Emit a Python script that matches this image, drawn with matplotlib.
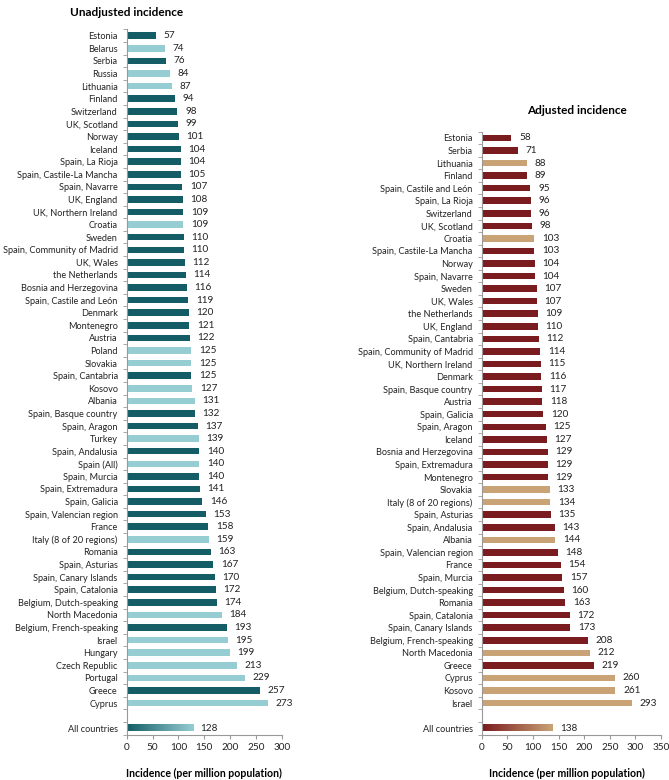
import numpy as np
import matplotlib
matplotlib.use('Agg')
import matplotlib.pyplot as plt
from matplotlib.colors import LinearSegmentedColormap

plt.rcParams['font.family'] = ['Lato', 'DejaVu Sans']

# Unadjusted incidence (per million population); light = 1
unadj_labels = ['Estonia', 'Belarus', 'Serbia', 'Russia', 'Lithuania', 'Finland',
                'Switzerland', 'UK, Scotland', 'Norway', 'Iceland', 'Spain, La Rioja',
                'Spain, Castile-La Mancha', 'Spain, Navarre', 'UK, England',
                'UK, Northern Ireland', 'Croatia', 'Sweden', 'Spain, Community of Madrid',
                'UK, Wales', 'the Netherlands', 'Bosnia and Herzegovina',
                'Spain, Castile and León', 'Denmark', 'Montenegro', 'Austria', 'Poland',
                'Slovakia', 'Spain, Cantabria', 'Kosovo', 'Albania', 'Spain, Basque country',
                'Spain, Aragon', 'Turkey', 'Spain, Andalusia', 'Spain (All)', 'Spain, Murcia',
                'Spain, Extremadura', 'Spain, Galicia', 'Spain, Valencian region', 'France',
                'Italy (8 of 20 regions)', 'Romania', 'Spain, Asturias',
                'Spain, Canary Islands', 'Spain, Catalonia', 'Belgium, Dutch-speaking',
                'North Macedonia', 'Belgium, French-speaking', 'Israel', 'Hungary',
                'Czech Republic', 'Portugal', 'Greece', 'Cyprus']
unadj_values = [57, 74, 76, 84, 87, 94, 98, 99, 101, 104, 104, 105, 107, 108, 109, 109,
                110, 110, 112, 114, 116, 119, 120, 121, 122, 125, 125, 125, 127, 131,
                132, 137, 139, 140, 140, 140, 141, 146, 153, 158, 159, 163, 167, 170,
                172, 174, 184, 193, 195, 199, 213, 229, 257, 273]
unadj_light = [0, 1, 0, 1, 1, 0, 0, 0, 0, 0, 0, 0, 0, 0, 0, 1, 0, 0, 0, 0, 0, 0, 0, 0,
               0, 1, 1, 0, 1, 1, 0, 0, 1, 0, 1, 0, 0, 0, 0, 0, 1, 0, 0, 0, 0, 0, 1, 0,
               1, 1, 1, 1, 0, 1]
unadj_all = 128

# Adjusted incidence
adj_labels = ['Estonia', 'Serbia', 'Lithuania', 'Finland', 'Spain, Castile and León',
              'Spain, La Rioja', 'Switzerland', 'UK, Scotland', 'Croatia',
              'Spain, Castile-La Mancha', 'Norway', 'Spain, Navarre', 'Sweden', 'UK, Wales',
              'the Netherlands', 'UK, England', 'Spain, Cantabria',
              'Spain, Community of Madrid', 'UK, Northern Ireland', 'Denmark',
              'Spain, Basque country', 'Austria', 'Spain, Galicia', 'Spain, Aragon',
              'Iceland', 'Bosnia and Herzegovina', 'Spain, Extremadura', 'Montenegro',
              'Slovakia', 'Italy (8 of 20 regions)', 'Spain, Asturias', 'Spain, Andalusia',
              'Albania', 'Spain, Valencian region', 'France', 'Spain, Murcia',
              'Belgium, Dutch-speaking', 'Romania', 'Spain, Catalonia',
              'Spain, Canary Islands', 'Belgium, French-speaking', 'North Macedonia',
              'Greece', 'Cyprus', 'Kosovo', 'Israel']
adj_values = [58, 71, 88, 89, 95, 96, 96, 98, 103, 103, 104, 104, 107, 107, 109, 110,
              112, 114, 115, 116, 117, 118, 120, 125, 127, 129, 129, 129, 133, 134, 135,
              143, 144, 148, 154, 157, 160, 163, 172, 173, 208, 212, 219, 260, 261, 293]
adj_light = [0, 0, 1, 0, 0, 0, 0, 0, 1, 0, 0, 0, 0, 0, 0, 0, 0, 0, 0, 0, 0, 0, 0, 0,
             0, 0, 0, 0, 1, 1, 0, 0, 1, 0, 0, 0, 0, 0, 0, 0, 0, 1, 0, 1, 1, 1]
adj_all = 138

fig = plt.figure(figsize=(6.69, 7.80), dpi=100)
W, H = 669, 780


def panel(rect, labels, values, light, all_val, dark_c, light_c, xmax, title, title_xy,
          xlabel_x=0.5):
    ax = fig.add_axes(rect)
    n = len(labels)
    pos = list(range(n)) + [n + 1]
    cols = [light_c if f else dark_c for f in light]
    ax.barh(range(n), values, height=0.52, color=cols)
    # gradient bar for "All countries"
    cmap = LinearSegmentedColormap.from_list('g', [dark_c, light_c])
    grad = np.linspace(0, 1, 256).reshape(1, -1)
    ax.imshow(grad, extent=(0, all_val, n + 1 + 0.26, n + 1 - 0.26), cmap=cmap,
              aspect='auto', zorder=2)
    for y, v in zip(pos, list(values) + [all_val]):
        ax.annotate(str(v), (v, y), xytext=(5.5, 0), textcoords='offset points',
                    va='center', ha='left', fontsize=7.2, color='#222222')
    ax.set_ylim(n + 1.5, -0.5)
    ax.set_xlim(0, xmax)
    ax.set_yticks(pos)
    ax.set_yticklabels(labels + ['All countries'], fontsize=6.6, color='#222222')
    ax.set_yticks(np.arange(-0.5, n + 2, 1), minor=True)
    ax.tick_params(axis='y', which='major', length=0, pad=6.5)
    ax.tick_params(axis='y', which='minor', length=3, color='#999999', direction='out')
    ax.set_xticks(np.arange(0, xmax + 1, 50))
    ax.tick_params(axis='x', length=3, color='#999999', labelsize=7.2, pad=3,
                   labelcolor='#222222')
    for s in ['top', 'right']:
        ax.spines[s].set_visible(False)
    for s in ['left', 'bottom']:
        ax.spines[s].set_color('#999999')
        ax.spines[s].set_linewidth(0.8)
    ax.set_xlabel('Incidence (per million population)', fontsize=7.6, fontweight='bold')
    # place label about 38 px under the axis line
    ax.xaxis.set_label_coords(xlabel_x, -33.0 / (rect[3] * H))
    fig.text(title_xy[0] / W, 1 - title_xy[1] / H, title, fontsize=8.5,
             fontweight='bold', ha='center', va='center')
    return ax


bottom = 1 - 734.5 / H
left_h = 56 * 12.59 / H
right_h = 48 * 12.56 / H
panel([126.7 / W, bottom, 155.3 / W, left_h], unadj_labels, unadj_values, unadj_light,
      unadj_all, '#145D66', '#96CDD2', 300, 'Unadjusted incidence', (127, 12))
panel([481.7 / W, bottom, 179.3 / W, right_h], adj_labels, adj_values, adj_light,
      adj_all, '#7A1B1F', '#C9A375', 350, 'Adjusted incidence', (577, 111), 0.476)

fig.savefig('out.png', dpi=100)
